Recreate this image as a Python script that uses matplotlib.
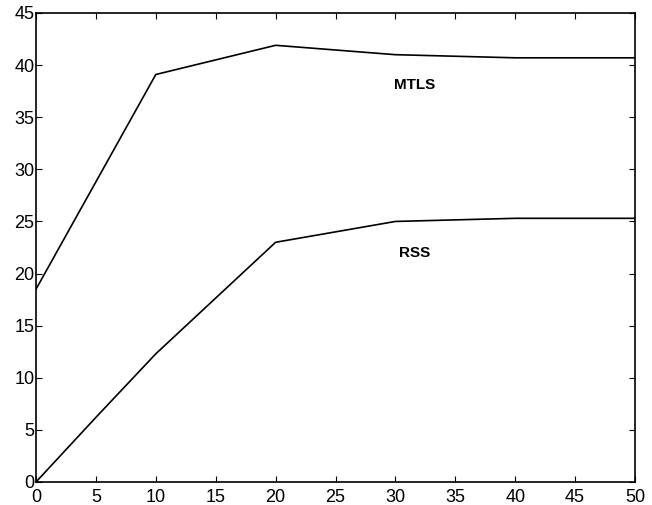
import numpy as np
import matplotlib.pyplot as plt

plt.rcParams['font.family'] = ['Liberation Sans', 'DejaVu Sans']

# values
x = [0, 5, 10, 20, 30, 40, 50]
mtls = [18.5, 28.8, 39.1, 41.9, 41.0, 40.7, 40.7]
rss = [0.0, 6.2, 12.3, 23.0, 25.0, 25.3, 25.3]

fig = plt.figure(figsize=(6.52, 5.05), dpi=100)
ax = fig.add_axes([36 / 652, 1 - 482 / 505, 599 / 652, 469 / 505])

ax.plot(x, mtls, color='black', lw=1.2)
ax.plot(x, rss, color='black', lw=1.2)

ax.text(31.6, 38.1, "MTLS", fontsize=11, fontweight='bold', ha='center', va='center')
ax.text(31.6, 22.0, "RSS", fontsize=11, fontweight='bold', ha='center', va='center')

ax.set_xlim(0, 50)
ax.set_ylim(0, 45)
ax.set_xticks(np.arange(0, 51, 5))
ax.set_yticks(np.arange(0, 46, 5))
ax.tick_params(direction='in', top=True, right=True, labelsize=13, length=4)
ax.tick_params(axis='x', pad=5)
ax.tick_params(axis='y', pad=1)
for s in ax.spines.values():
    s.set_linewidth(1.2)

fig.savefig("out.png", dpi=100)
